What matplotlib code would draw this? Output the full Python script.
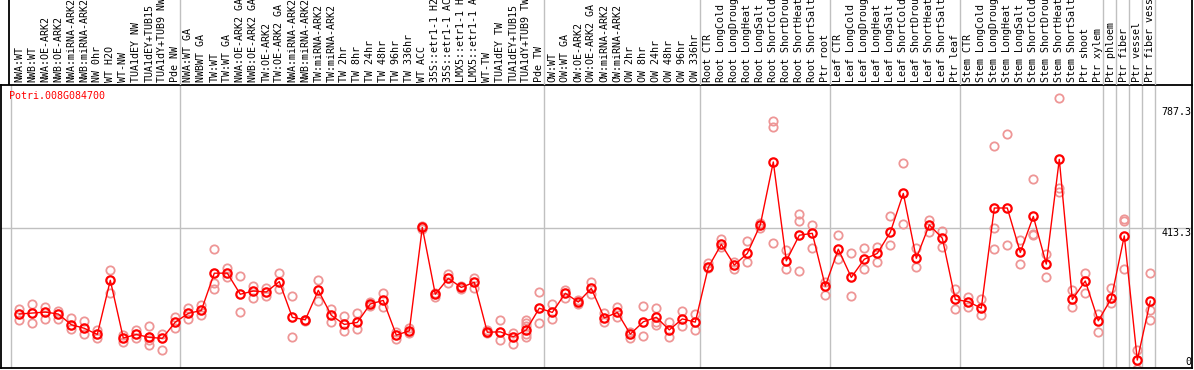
import matplotlib
matplotlib.use("Agg")
import matplotlib.pyplot as plt
import matplotlib.transforms as mtransforms

gene = "Potri.008G084700"

samples = [
    "NWA:WT", "NWB:WT", "NWA:OE-ARK2", "NWB:OE-ARK2", "NWA:miRNA-ARK2", "NWB:miRNA-ARK2",
    "NW 0hr", "WT H2O", "WT-NW", "TUA1dEY NW", "TUA1dEY+TUB15", "TUA1dY+TUB9 NW", "Pde NW",
    "NWA:WT GA", "NWBWT GA", "TW:WT", "TW:WT GA", "NWA:OE-ARK2 GA", "NWB:OE-ARK2 GA",
    "TW:OE-ARK2", "TW:OE-ARK2 GA", "NWA:miRNA-ARK2", "NWB:miRNA-ARK2", "TW:miRNA-ARK2",
    "TW:miRNA-ARK2", "TW 2hr", "TW 8hr", "TW 24hr", "TW 48hr", "TW 96hr", "TW 336hr",
    "WT ACC", "35S::etr1-1 H2", "35S::etr1-1 AC", "LMX5::etr1-1 H", "LMX5::etr1-1 A",
    "WT-TW", "TUA1dEY TW", "TUA1dEY+TUB15", "TUA1dY+TUB9 TW", "Pde TW",
    "OW:WT", "OW:WT GA", "OW:OE-ARK2", "OW:OE-ARK2 GA", "OW:miRNA-ARK2", "OW:miRNA-ARK2",
    "OW 2hr", "OW 8hr", "OW 24hr", "OW 48hr", "OW 96hr", "OW 336hr",
    "Root CTR", "Root LongCold", "Root LongDroug", "Root LongHeat", "Root LongSalt",
    "Root ShortCold", "Root ShortDrou", "Root ShortHeat", "Root ShortSalt", "Ptr root",
    "Leaf CTR", "Leaf LongCold", "Leaf LongDroug", "Leaf LongHeat", "Leaf LongSalt",
    "Leaf ShortCold", "Leaf ShortDrou", "Leaf ShortHeat", "Leaf ShortSalt", "Ptr leaf",
    "Stem CTR", "Stem LongCold", "Stem LongDroug", "Stem LongHeat", "Stem LongSalt",
    "Stem ShortCold", "Stem ShortDrou", "Stem ShortHeat", "Stem ShortSalt",
    "Ptr shoot", "Ptr xylem", "Ptr phloem", "Ptr fiber", "Ptr vessel", "Ptr fiber vess",
]

means = [
    148, 151, 154, 148, 115, 104, 85, 252, 74, 85, 76, 73, 123,
    150, 159, 274, 274, 209, 219, 216, 248, 138, 130, 221, 144, 116, 122, 179, 190, 83, 96,
    415, 209, 258, 230, 246, 92, 93, 78, 99, 166,
    153, 212, 185, 227, 136, 153, 86, 124, 138, 99, 133, 123,
    292, 363, 299, 335, 423, 617, 312, 391, 397, 234,
    348, 261, 317, 335, 400, 520, 320, 423, 382, 193,
    186, 166, 475, 475, 338, 449, 302, 625, 193,
    250, 127, 196, 389, 6, 188,
]

reps = [
    [163, 130], [179, 119], [169, 132], [158, 134], [135, 103], [126, 87], [99, 75],
    [283, 212], [83, 61], [99, 73], [110, 52, 77, 68], [86, 36], [138, 105],
    [166, 133], [175, 146], [349, 243, 226], [291, 263], [266, 153], [234, 198],
    [229, 204], [275, 224], [204, 77], [130, 125], [252, 188], [164, 124], [142, 96],
    [150, 101], [185, 173], [213, 169], [93, 70], [104, 89],
    [419, 411], [212, 200], [271, 244], [234, 226], [260, 228], [99, 89], [130, 68],
    [90, 56], [130, 119, 111, 86, 78], [215, 119],
    [178, 134], [222, 196], [191, 178], [248, 210], [150, 124], [169, 140], [93, 75],
    [172, 80], [167, 122, 115], [122, 78], [157, 111], [148, 98],
    [306, 289], [380, 356], [309, 287], [372, 309], [430, 412], [743, 725, 367],
    [345, 286], [456, 435, 281], [423, 351], [248, 207],
    [392, 317], [335, 204], [351, 286], [356, 309], [450, 361], [613, 425], [353, 294],
    [438, 402], [405, 354], [224, 164],
    [200, 171], [193, 144], [666, 412, 348], [703, 361], [376, 302], [564, 395, 392],
    [333, 261], [813, 536, 525], [222, 171],
    [274, 212], [148, 92], [227, 181], [440, 436, 286], [37, -23], [274, 160, 130],
]

group_starts = [0, 13, 41, 53, 63, 73, 84, 85, 86, 87, 88]
tick_values = [787.3, 413.3, 0]

W, H = 1194, 370
MONO = "DejaVu Sans Mono"
GRID = "#c0c0c0"


def px_box(x0, y0, x1, y1):
    return [x0 / W, 1 - y1 / H, (x1 - x0) / W, (y1 - y0) / H]


fig = plt.figure(figsize=(W / 100, H / 100), dpi=100)
ax = fig.add_axes(px_box(1.3, 85, 1191.7, 368.3))
lab = fig.add_axes(px_box(1.3, 0, 1191.7, 85))

xs = list(range(len(samples)))
xlim = (-1.385, 90.185)

# main plot
ax.set_xlim(*xlim)
ax.set_ylim(-19.4, 854.4)
for g in group_starts:
    ax.axvline(g - 0.65, color=GRID, lw=1, zorder=0)
ax.axhline(413.3, color=GRID, lw=1, zorder=0)

rx, ry = [], []
for i, r in enumerate(reps):
    for v in r:
        rx.append(i)
        ry.append(v)
ax.plot(rx, ry, "o", ms=6, mfc="none", mec="#ee9696", mew=1.3, zorder=2)
ax.plot(xs, means, "-", color="red", lw=1, zorder=3)
ax.plot(xs, means, "o", ms=6, mfc="none", mec="red", mew=1.6, zorder=4)

tr = mtransforms.blended_transform_factory(ax.transAxes, ax.transData)
for v in tick_values:
    txt = "0" if v == 0 else f"{v:.1f}"
    ax.text(1.0, v, txt, transform=tr, ha="right", va="top" if v else "center",
            fontsize=7.2, family=MONO, color="black")

ax.set_xticks([])
ax.set_yticks([])
for s in ax.spines.values():
    s.set_color("black")
    s.set_linewidth(1.3)

fig.text(9 / W, 1 - 96 / H, gene, color="red", fontsize=7.2, family=MONO, va="center")

# sample labels on top
lab.set_xlim(*xlim)
lab.set_ylim(0, 85)
for g in group_starts[1:]:
    lab.axvline(g - 0.65, color=GRID, lw=1, zorder=0)
lab.axvline((9 - 19.3) / 13, color="black", lw=1.3)
for i, s in enumerate(samples):
    lab.text(i, 2.7, s, rotation=90, ha="center", va="bottom", fontsize=7.2,
             family=MONO, clip_on=True)
lab.set_xticks([])
lab.set_yticks([])
for k, s in lab.spines.items():
    s.set_visible(k == "right")
lab.spines["right"].set_linewidth(1.3)
lab.patch.set_alpha(0)

fig.savefig("out.png", dpi=100)
